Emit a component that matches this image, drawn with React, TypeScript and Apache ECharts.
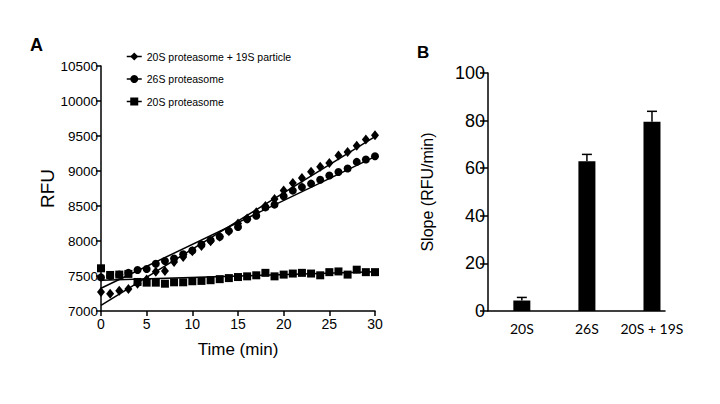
import React, { useEffect, useRef } from "react";
import * as echarts from "echarts";

const times = [0,1,2,3,4,5,6,7,8,9,10,11,12,13,14,15,16,17,18,19,20,21,22,23,24,25,26,27,28,29,30];
const s20S19S = [7270,7245,7290,7315,7390,7450,7560,7570,7700,7770,7855,7930,7995,8060,8140,8250,8320,8410,8500,8600,8720,8830,8900,8990,9060,9115,9220,9270,9360,9450,9510];
const s26S = [7480,7500,7520,7545,7585,7600,7675,7715,7750,7810,7865,7950,8010,8060,8145,8200,8310,8360,8480,8520,8640,8720,8770,8820,8875,8935,8985,9035,9130,9165,9210];
const s20S = [7610,7515,7520,7530,7415,7405,7405,7390,7410,7410,7425,7430,7440,7455,7470,7485,7495,7510,7545,7495,7520,7535,7545,7535,7510,7555,7565,7520,7590,7555,7555];
const fitTimes = [0, 30];
const fit20S19S = [7080, 9490];
const fit26S = [7325, 9205];
const fit20S = [7440, 7560];

const barCats = ["20S", "26S", "20S + 19S"];
const barPos = [0.52, 1.52, 2.52];
const slopes = [4.4, 62.9, 79.5];
const slopeErr = [1.3, 2.9, 4.4];

const names = ["20S proteasome + 19S particle", "26S proteasome", "20S proteasome"];

const sans = "'Liberation Sans', Arial, sans-serif";

export default function App() {
  const ref = useRef<HTMLDivElement>(null);
  useEffect(() => {
    if (!ref.current) return;
    const chart = echarts.init(ref.current, undefined, { renderer: "svg" });
    const pair = (xs: number[], ys: number[]) => xs.map((x, i) => [x, ys[i]]);
    const dataSeries = (name: string, ys: number[], symbol: string, size: any) => ({
      name,
      type: "line",
      xAxisIndex: 0,
      yAxisIndex: 0,
      data: pair(times, ys),
      symbol,
      symbolSize: size,
      showSymbol: true,
      lineStyle: { width: 0, opacity: 0 },
      itemStyle: { color: "#000", borderWidth: 0 },
      z: 3,
    });
    const fitSeries = (ys: number[]) => ({
      type: "line",
      xAxisIndex: 0,
      yAxisIndex: 0,
      data: pair(fitTimes, ys),
      symbol: "none",
      lineStyle: { color: "#000", width: 1.5 },
      z: 2,
    });
    const axisLine = { show: true, lineStyle: { color: "#000", width: 1.5 } };
    chart.setOption({
      animation: false,
      backgroundColor: "#fff",
      grid: [
        { left: 101, top: 66, width: 274, height: 245 },
        { left: 488, top: 73, width: 177, height: 238 },
      ],
      legend: {
        orient: "vertical",
        left: 126,
        top: 51,
        padding: 0,
        itemWidth: 15,
        itemHeight: 10,
        itemGap: 11.5,
        data: names,
        textStyle: { fontFamily: sans, fontSize: 10.5, color: "#000" },
        lineStyle: { color: "#000", width: 1.5, opacity: 1 },
      },
      xAxis: [
        {
          gridIndex: 0,
          type: "value",
          min: 0,
          max: 30,
          interval: 5,
          name: "Time (min)",
          nameLocation: "middle",
          nameGap: 30,
          nameTextStyle: { fontFamily: sans, fontSize: 17, color: "#000" },
          axisLine,
          axisTick: { show: true, length: 5, lineStyle: { color: "#000", width: 1.5 } },
          axisLabel: { fontFamily: sans, fontSize: 14, color: "#000", margin: 6 },
          splitLine: { show: false },
        },
        {
          gridIndex: 1,
          type: "value",
          min: 0,
          max: 2.72,
          axisLine,
          axisTick: { show: false },
          axisLabel: {
            customValues: barPos,
            formatter: (v: number) => barCats[Math.round(v - 0.52)] ?? "",
            fontFamily: "Lato, 'Open Sans', sans-serif",
            fontSize: 14,
            color: "#000",
            margin: 10,
          },
          splitLine: { show: false },
        },
      ],
      yAxis: [
        {
          gridIndex: 0,
          type: "value",
          min: 7000,
          max: 10500,
          interval: 500,
          name: "RFU",
          nameLocation: "middle",
          nameGap: 42,
          nameRotate: 90,
          nameTextStyle: { fontFamily: sans, fontSize: 19, color: "#000" },
          axisLine,
          axisTick: { show: true, length: 5, lineStyle: { color: "#000", width: 1.5 } },
          axisLabel: { fontFamily: sans, fontSize: 13.5, color: "#000", margin: 3, formatter: (v: number) => String(v) },
          splitLine: { show: false },
        },
        {
          gridIndex: 1,
          type: "value",
          min: 0,
          max: 100,
          interval: 20,
          name: "Slope (RFU/min)",
          nameLocation: "middle",
          nameGap: 53,
          nameRotate: 90,
          nameTextStyle: { fontFamily: sans, fontSize: 16, color: "#000" },
          axisLine,
          axisTick: { show: true, length: 8, lineStyle: { color: "#000", width: 1.5 } },
          axisLabel: { fontFamily: sans, fontSize: 18, color: "#000", margin: 3 },
          splitLine: { show: false },
        },
      ],
      series: [
        dataSeries(names[0], s20S19S, "diamond", [8, 10]),
        dataSeries(names[1], s26S, "circle", 8),
        dataSeries(names[2], s20S, "rect", 8),
        fitSeries(fit20S19S),
        fitSeries(fit26S),
        fitSeries(fit20S),
        {
          type: "bar",
          xAxisIndex: 1,
          yAxisIndex: 1,
          data: pair(barPos, slopes),
          barWidth: 17,
          itemStyle: { color: "#000" },
          z: 2,
        },
        {
          type: "custom",
          xAxisIndex: 1,
          yAxisIndex: 1,
          data: barPos.map((x, i) => [x, slopes[i], slopes[i] + slopeErr[i]]),
          renderItem: (_p: any, api: any) => {
            const base = api.coord([api.value(0), api.value(1)]);
            const top = api.coord([api.value(0), api.value(2)]);
            const st = { stroke: "#000", lineWidth: 1.5 };
            return {
              type: "group",
              children: [
                { type: "line", shape: { x1: base[0], y1: base[1], x2: top[0], y2: top[1] }, style: st },
                { type: "line", shape: { x1: top[0] - 5, y1: top[1], x2: top[0] + 5, y2: top[1] }, style: st },
              ],
            };
          },
          z: 3,
        },
      ],
      graphic: [
        { type: "text", left: 30, top: 36, style: { text: "A", fontFamily: sans, fontWeight: "bold", fontSize: 18, fill: "#000" } },
        { type: "text", left: 417, top: 44, style: { text: "B", fontFamily: sans, fontWeight: "bold", fontSize: 17, fill: "#000" } },
      ],
    });
    return () => chart.dispose();
  }, []);
  return <div ref={ref} style={{ width: 720, height: 404, position: "absolute", left: 0, top: 0 }} />;
}
